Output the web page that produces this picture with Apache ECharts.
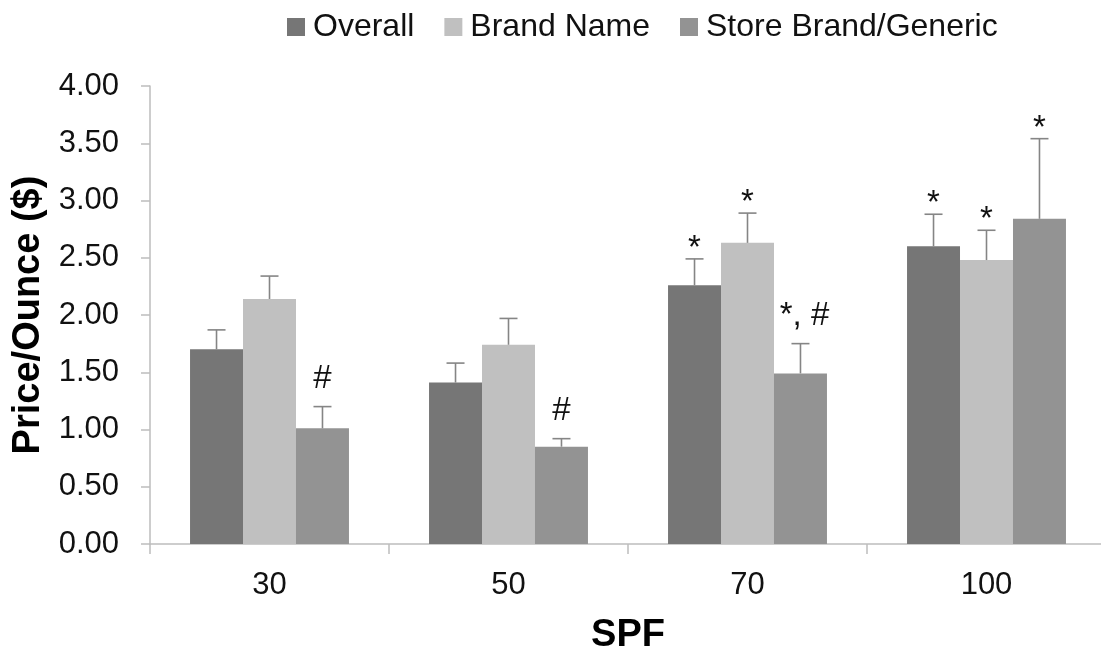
<!DOCTYPE html>
<html>
<head>
<meta charset="utf-8">
<script src="https://cdn.jsdelivr.net/npm/echarts@6/dist/echarts.min.js"></script>
<style>
html,body{margin:0;padding:0;background:#fff;}
#chart{width:1101px;height:654px;}
</style>
</head>
<body>
<div id="chart"></div>
<script>
// ---- data ----
const categories = ['30', '50', '70', '100'];
const seriesNames = ['Overall', 'Brand Name', 'Store Brand/Generic'];
const overall = [1.70, 1.41, 2.26, 2.60];
const overallSE = [0.17, 0.17, 0.23, 0.28];
const brand = [2.14, 1.74, 2.63, 2.48];
const brandSE = [0.20, 0.23, 0.26, 0.26];
const store = [1.01, 0.85, 1.49, 2.84];
const storeSE = [0.19, 0.07, 0.26, 0.70];
const overallMarks = ['', '', '*', '*'];
const brandMarks = ['', '', '*', '*'];
const storeMarks = ['#', '#', '*, #', '*'];
const yTicks = ['0.00', '0.50', '1.00', '1.50', '2.00', '2.50', '3.00', '3.50', '4.00'];

// ---- style ----
const FONT = 'Liberation Sans, Arial, Helvetica, sans-serif';
const colors = ['#767676', '#c0c0c0', '#939393'];
const GAP = 0.335;
const axisColor = '#bdbdbd';

function barSeries(name, vals, color) {
  return {
    name: name,
    type: 'bar',
    data: vals,
    barGap: '0%',
    barCategoryGap: (GAP * 100) + '%',
    itemStyle: { color: color },
    z: 2
  };
}

function errSeries(idx, vals, ses, marks) {
  return {
    type: 'custom',
    name: 'err' + idx,
    data: vals.map((v, i) => [i, v + ses[i], v]),
    z: 5,
    silent: true,
    renderItem: function (params, api) {
      const ci = api.value(0);
      const top = api.coord([ci, api.value(1)]);
      const base = api.coord([ci, api.value(2)]);
      const catW = api.size([1, 0])[0];
      const bw = catW * (1 - GAP) / 3;
      const x = top[0] + (idx - 1) * bw;
      const ls = { stroke: '#858585', lineWidth: 1.6 };
      const children = [
        { type: 'line', shape: { x1: x, y1: base[1], x2: x, y2: top[1] }, style: ls },
        { type: 'line', shape: { x1: x - 9, y1: top[1], x2: x + 9, y2: top[1] }, style: ls }
      ];
      const m = marks[params.dataIndex];
      if (m) {
        const dy = m.indexOf('#') >= 0 ? -28 : -10;
        children.push({
          type: 'text',
          x: x + (m.length > 1 ? 4 : 0),
          y: top[1] + dy,
          style: {
            text: m,
            fill: '#111',
            fontSize: 33,
            fontFamily: FONT,
            align: 'center',
            verticalAlign: 'middle'
          }
        });
      }
      return { type: 'group', children: children };
    }
  };
}

const chart = echarts.init(document.getElementById('chart'), null, { renderer: 'canvas' });
chart.setOption({
  animation: false,
  backgroundColor: '#ffffff',
  textStyle: { fontFamily: FONT },
  legend: {
    data: seriesNames,
    left: 282,
    top: 6,
    icon: 'rect',
    itemWidth: 18,
    itemHeight: 18,
    itemGap: 30,
    textStyle: { fontSize: 32, color: '#111', fontFamily: FONT, padding: [0, 0, 0, 3] }
  },
  grid: { left: 150, top: 86, width: 956, height: 458, containLabel: false, outerBoundsMode: 'none' },
  xAxis: {
    type: 'category',
    data: categories,
    name: 'SPF',
    nameLocation: 'middle',
    nameGap: 73,
    nameTextStyle: { fontSize: 38, fontWeight: 'bold', color: '#000', fontFamily: FONT },
    axisLine: { lineStyle: { color: axisColor, width: 1.5 } },
    axisTick: { show: true, length: 10, lineStyle: { color: axisColor, width: 1.5 } },
    axisLabel: { fontSize: 31, color: '#111', margin: 26, fontFamily: FONT }
  },
  yAxis: {
    type: 'value',
    min: 0,
    max: 4,
    interval: 0.5,
    name: 'Price/Ounce ($)',
    nameLocation: 'middle',
    nameGap: 100,
    nameTextStyle: { fontSize: 38, fontWeight: 'bold', color: '#000', fontFamily: FONT },
    axisLine: { show: true, lineStyle: { color: axisColor, width: 1.5 } },
    axisTick: { show: true, length: 9, lineStyle: { color: axisColor, width: 1.5 } },
    splitLine: { show: false },
    axisLabel: {
      fontSize: 31, color: '#111', margin: 31, fontFamily: FONT,
      formatter: function (v) { return yTicks[Math.round(v / 0.5)]; }
    }
  },
  series: [
    barSeries(seriesNames[0], overall, colors[0]),
    barSeries(seriesNames[1], brand, colors[1]),
    barSeries(seriesNames[2], store, colors[2]),
    errSeries(0, overall, overallSE, overallMarks),
    errSeries(1, brand, brandSE, brandMarks),
    errSeries(2, store, storeSE, storeMarks)
  ]
});
</script>
</body>
</html>
